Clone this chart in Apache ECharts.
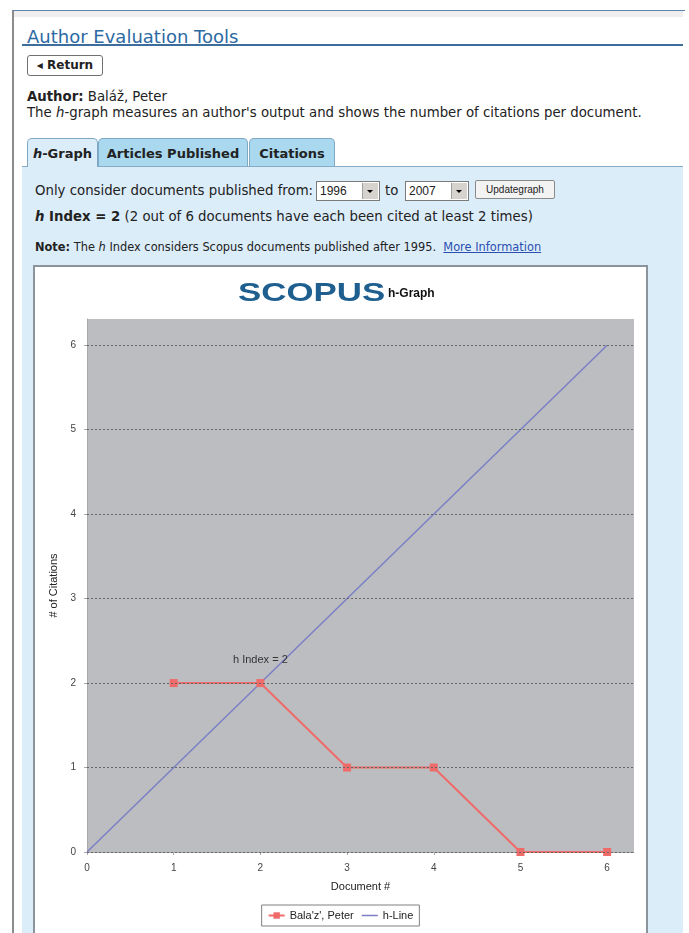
<!DOCTYPE html>
<html>
<head>
<meta charset="utf-8">
<script src="https://cdn.jsdelivr.net/npm/echarts@6/dist/echarts.min.js"></script>
<style>
  body { margin: 0; width: 689px; height: 933px; overflow: hidden; background: #fff;
         font-family: "DejaVu Sans", Verdana, sans-serif; color: #222; }
  .abs { position: absolute; }
  #frame { left: 12px; top: 10px; width: 671px; height: 940px; border-left: 2px solid #8c8c8c;
           border-top: 1px solid #5d84ad; }
  #band { left: 14px; top: 11px; width: 669px; height: 6px; background: #eeeeee; }
  #title { left: 27px; top: 26px; font-size: 18px; color: #2c6aa3; }
  #rule { left: 22px; top: 44px; width: 661px; height: 2px; background: #3c6d9c; }
  #ret { left: 27px; top: 55px; width: 74px; height: 19px; border: 1px solid #707070; border-radius: 3px;
         font-size: 12px; font-weight: bold; line-height: 19px; text-align: center; }
  .txt { font-size: 13.3px; white-space: nowrap; }
  #panel { left: 22px; top: 166px; width: 661px; height: 800px; background: #dcedfa;
           border-top: 1px solid #86abc6; }
  .tab { top: 138px; height: 27px; border: 1px solid #7fa8c4; border-bottom: none;
         border-radius: 5px 5px 0 0; background: #a9d8ef; font-size: 13px; font-weight: bold;
         line-height: 29px; text-align: center; }
  .sel { top: 181px; height: 18px; width: 62px; border: 1px solid #7a7a7a; background: #fff;
         font-family: "Liberation Sans", Arial, sans-serif; font-size: 12px; line-height: 18px; }
  .sel span { position: absolute; left: 3px; top: 0; }
  .sel b { position: absolute; right: 1px; top: 1px; width: 15px; height: 16px; background: #d6d3ce;
           border-left: 1px solid #a0a0a0; }
  .sel b:after { content: ""; position: absolute; left: 4px; top: 7px; border-left: 3px solid transparent;
           border-right: 3px solid transparent; border-top: 3px solid #000; }
  #btn { left: 475px; top: 180px; width: 78px; height: 17px; border: 1px solid #8a8a8a; border-radius: 2px;
         background: #f3f3f3; font-family: "Liberation Sans", Arial, sans-serif; font-size: 10px;
         line-height: 17px; text-align: center; }
  #box { left: 33px; top: 265px; width: 611px; height: 700px; border: 2px solid #8b939b; background: #fff; }
  #grid { position: absolute; left: 35px; top: 267px; width: 611px; height: 680px; }
</style>
</head>
<body>
<div id="frame" class="abs"></div>
<div id="band" class="abs"></div>
<div id="title" class="abs">Author Evaluation Tools</div>
<div id="rule" class="abs"></div>
<div id="ret" class="abs">&#9666; Return</div>
<div class="abs txt" style="left:27px; top:89px;"><b>Author:</b> Baláž, Peter</div>
<div class="abs txt" style="left:27px; top:105px;">The <i>h</i>-graph measures an author's output and shows the number of citations per document.</div>
<div id="panel" class="abs"></div>
<div class="abs tab" style="left:27px; width:69px; background:#dcedfa; height:28px;"><i>h</i>-Graph</div>
<div class="abs tab" style="left:98px; width:148px;">Articles Published</div>
<div class="abs tab" style="left:249px; width:84px;">Citations</div>
<div class="abs txt" style="left:35px; top:183px;">Only consider documents published from:</div>
<div class="abs sel" style="left:316px;"><span>1996</span><b></b></div>
<div class="abs txt" style="left:385px; top:183px;">to</div>
<div class="abs sel" style="left:405px;"><span>2007</span><b></b></div>
<div id="btn" class="abs">Updategraph</div>
<div class="abs txt" style="left:35px; top:209px;"><b><i>h</i> Index = 2</b> (2 out of 6 documents have each been cited at least 2 times)</div>
<div class="abs txt" style="left:35px; top:240px; font-size:11.4px;"><b>Note:</b> The <i>h</i> Index considers Scopus documents published after 1995.&nbsp; <span style="color:#2a4fb0; text-decoration:underline;">More Information</span></div>
<div id="box" class="abs"></div>
<div id="grid"></div>
<script>
const myChart = echarts.init(document.getElementById('grid'));

// data
const docs = [1, 2, 3, 4, 5, 6];
const citations = [2, 2, 1, 1, 0, 0];
const hLineX = [0, 6];
const hLineY = [0, 6];
const xTicks = [0, 1, 2, 3, 4, 5, 6];
const yTicks = [0, 1, 2, 3, 4, 5, 6];
const seriesNames = ["Bala'z', Peter", 'h-Line'];
const hIndexLabel = 'h Index = 2';
const hIndexPos = [2, 2.27];

const font = '"Liberation Sans", Arial, sans-serif';

const option = {
  animation: false,
  graphic: [
    {
      type: 'text',
      x: 203,
      y: 14,
      scaleX: 1.34,
      style: { text: 'SCOPUS', font: 'bold 26px ' + font, fill: '#1f5f8f', textVerticalAlign: 'top' },
    },
    {
      type: 'text',
      x: 353,
      y: 21,
      style: { text: 'h-Graph', font: 'bold 12px ' + font, fill: '#111', textVerticalAlign: 'top' },
    },
  ],
  grid: {
    left: 52,
    top: 52,
    width: 547,
    height: 533,
    show: true,
    backgroundColor: '#bcbdc0',
    borderWidth: 0,
  },
  legend: {
    left: 'center',
    top: 638,
    data: [
      { name: seriesNames[0] },
      { name: seriesNames[1], icon: 'path://M0,0 L16,0 L16,1.5 L0,1.5 Z' },
    ],
    borderColor: '#808080',
    borderWidth: 1,
    borderRadius: 0,
    padding: [5, 6],
    itemGap: 8,
    itemWidth: 16,
    itemHeight: 8,
    textStyle: { fontFamily: font, fontSize: 11, color: '#222' },
  },
  xAxis: {
    type: 'value',
    min: 0,
    max: 6.31,
    offset: 5,
    name: 'Document #',
    nameLocation: 'middle',
    nameGap: 24,
    nameTextStyle: { fontFamily: font, fontSize: 11, color: '#222' },
    axisLine: { lineStyle: { color: '#a9a9a9' } },
    axisTick: { length: 3, customValues: xTicks, lineStyle: { color: '#a9a9a9' } },
    axisLabel: { customValues: xTicks, margin: 6, fontFamily: font, fontSize: 10, color: '#444' },
    splitLine: { show: false },
  },
  yAxis: {
    type: 'value',
    min: 0,
    max: 6.31,
    offset: 6,
    name: '# of Citations',
    nameLocation: 'middle',
    nameGap: 20,
    nameTextStyle: { fontFamily: font, fontSize: 11, color: '#222' },
    axisLine: { show: true, lineStyle: { color: '#a9a9a9' } },
    axisTick: { show: true, length: 3, customValues: yTicks, lineStyle: { color: '#a9a9a9' } },
    axisLabel: { customValues: yTicks, margin: 5, fontFamily: font, fontSize: 10, color: '#444' },
    splitLine: { show: false },
  },
  series: [
    {
      // horizontal grid lines at each tick
      type: 'line',
      data: [],
      z: 1,
      markLine: {
        silent: true,
        symbol: 'none',
        label: { show: false },
        lineStyle: { color: '#666', type: [2, 2], width: 1 },
        data: yTicks.map((v) => ({ yAxis: v })),
      },
    },
    {
      name: seriesNames[0],
      type: 'line',
      z: 4,
      data: docs.map((d, i) => [d, citations[i]]),
      symbol: 'rect',
      symbolSize: 8,
      color: '#ef6b69',
      lineStyle: { width: 2 },
      markPoint: {
        symbol: 'rect',
        symbolSize: 0,
        data: [{ coord: hIndexPos }],
        label: { show: true, position: 'inside', formatter: hIndexLabel, fontFamily: font, fontSize: 11, color: '#333' },
      },
    },
    {
      name: seriesNames[1],
      type: 'line',
      z: 3,
      data: hLineX.map((x, i) => [x, hLineY[i]]),
      symbol: 'none',
      color: '#7b7fc6',
      lineStyle: { width: 1.5 },
    },
  ],
};

myChart.setOption(option);
</script>
</body>
</html>
